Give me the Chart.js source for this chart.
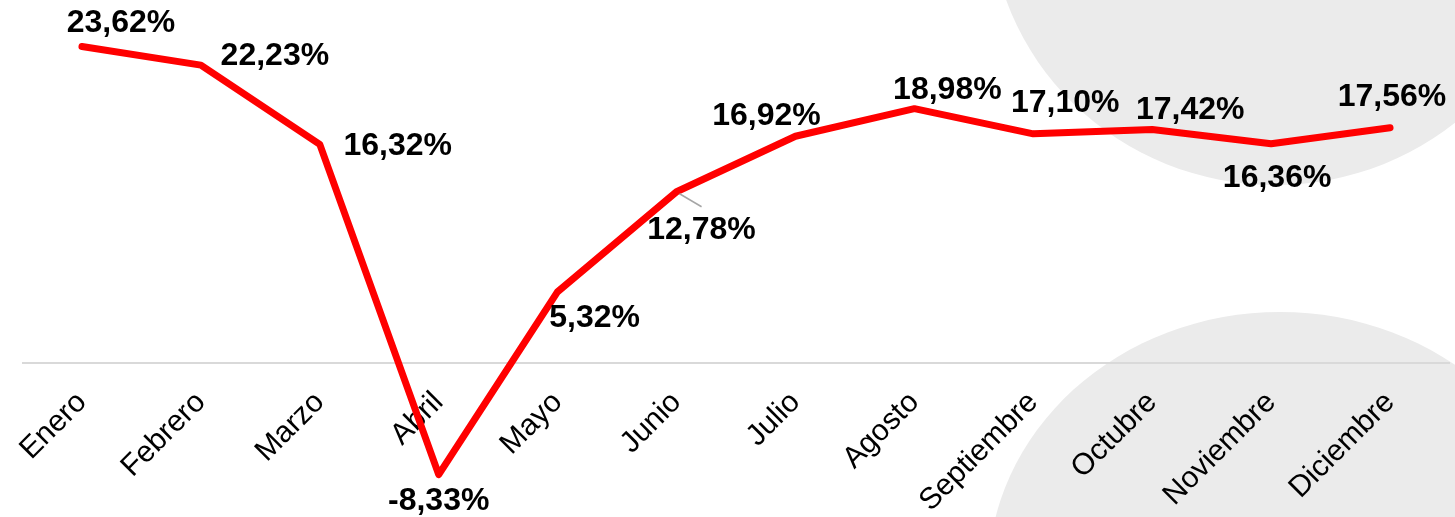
<!DOCTYPE html>
<html>
<head>
<meta charset="utf-8">
<script src="https://cdn.jsdelivr.net/npm/chart.js@4.4.1/dist/chart.umd.min.js"></script>
<style>
  html, body { margin: 0; padding: 0; background: #ffffff; }
  #wrap { width: 1455px; height: 517px; }
</style>
</head>
<body>
<div id="wrap"><canvas id="chart" width="1455" height="517"></canvas></div>
<script>
// Data
const months = ['Enero', 'Febrero', 'Marzo', 'Abril', 'Mayo', 'Junio', 'Julio', 'Agosto', 'Septiembre', 'Octubre', 'Noviembre', 'Diciembre'];
const growth = [23.62, 22.23, 16.32, -8.33, 5.32, 12.78, 16.92, 18.98, 17.10, 17.42, 16.36, 17.56];

// where each value label sits relative to its point (dx, dy)
const labelOffsets = [[39, -23], [74, -9], [78, 2], [0, 27], [37, 26], [25, 38], [-29, -20], [33, -18], [32, -31], [38, -19], [6, 34], [2, -31]];
const leaderIndex = 5; // Junio has a small pointer line

function fmtPct(v) {
  return v.toFixed(2).replace('.', ',') + '%';
}

// grey decorative shapes behind the chart
const backdropPlugin = {
  id: 'backdrop',
  beforeDraw(chart) {
    const ctx = chart.ctx;
    ctx.save();
    ctx.fillStyle = '#ebebeb';
    ctx.beginPath();
    ctx.ellipse(1275, -92, 285, 277, 0, 0, Math.PI * 2);
    ctx.fill();
    ctx.beginPath();
    ctx.ellipse(1280, 577, 292, 265, 0, 0, Math.PI * 2);
    ctx.fill();
    ctx.restore();
  }
};

// value labels next to points
const valueLabels = {
  id: 'valueLabels',
  afterDatasetsDraw(chart) {
    const ctx = chart.ctx;
    const meta = chart.getDatasetMeta(0);
    ctx.save();
    meta.data.forEach((pt, i) => {
      const off = labelOffsets[i];
      if (i === leaderIndex) {
        ctx.strokeStyle = '#a6a6a6';
        ctx.lineWidth = 1.5;
        ctx.beginPath();
        ctx.moveTo(pt.x + 3, pt.y + 2);
        ctx.lineTo(pt.x + 25, pt.y + 15);
        ctx.stroke();
      }
      ctx.font = 'bold 32px "Liberation Sans", Arial, sans-serif';
      ctx.fillStyle = '#000000';
      ctx.textAlign = 'center';
      ctx.textBaseline = 'middle';
      ctx.fillText(fmtPct(growth[i]), pt.x + off[0], pt.y + off[1]);
    });
    ctx.restore();
  }
};

new Chart(document.getElementById('chart'), {
  type: 'line',
  data: {
    labels: months,
    datasets: [{
      data: growth,
      borderColor: '#ff0000',
      borderWidth: 7,
      borderCapStyle: 'round',
      borderJoinStyle: 'round',
      pointRadius: 0,
      pointHoverRadius: 0,
      tension: 0,
      fill: false
    }]
  },
  options: {
    responsive: false,
    animation: false,
    events: [],
    layout: {
      autoPadding: false,
      padding: { left: 22.5, right: 5.5, top: 14.6, bottom: 20 }
    },
    plugins: {
      legend: { display: false },
      tooltip: { enabled: false }
    },
    scales: {
      x: {
        position: { y: 0 },
        offset: true,
        grid: { display: false, drawTicks: false },
        border: { display: true, color: '#d9d9d9', width: 2 },
        ticks: {
          autoSkip: false,
          minRotation: 45,
          maxRotation: 45,
          padding: 22,
          color: '#000000',
          font: { family: '"Liberation Sans", Arial, sans-serif', size: 30 }
        }
      },
      y: {
        display: false,
        min: -10,
        max: 26
      }
    }
  },
  plugins: [backdropPlugin, valueLabels]
});
</script>
</body>
</html>
